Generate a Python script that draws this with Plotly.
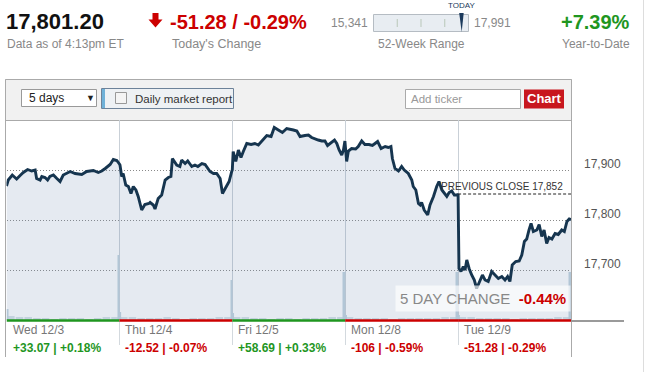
import plotly.graph_objects as go

W, H = 647, 372
FONT = "Liberation Sans, Arial, Helvetica, sans-serif"

# ---------------- data ----------------
last_price = 17801.20
today_change = "-51.28"
today_change_pct = "-0.29%"
ytd_change = "+7.39%"
week52_low = 15341
week52_high = 17991
previous_close = 17852
five_day_change = "-0.44%"
data_time = "Data as of 4:13pm ET"

day_labels = ["Wed 12/3", "Thu 12/4", "Fri 12/5", "Mon 12/8", "Tue 12/9"]
day_change_pts = ["+33.07", "-12.52", "+58.69", "-106", "-51.28"]
day_change_pcts = ["+0.18%", "-0.07%", "+0.33%", "-0.59%", "-0.29%"]

y_ticks = [17700, 17800, 17900]

# minutes after the 9:30 open and Dow level
wed_min = [0, 6, 20, 35, 47, 58, 73, 87, 99, 104, 116, 122, 133, 142, 150, 162, 174, 185, 196,
           220, 237, 260, 277, 300, 317, 329, 341, 358, 369, 381, 390]
wed_px = [17868, 17880, 17890, 17882, 17889, 17895, 17901, 17898, 17900, 17883, 17880, 17887, 17885,
          17880, 17887, 17890, 17883, 17877, 17890, 17897, 17893, 17891, 17897, 17899, 17895, 17898,
          17903, 17911, 17921, 17919, 17912]

thu_min = [2, 8, 13, 22, 31, 40, 48, 57, 65, 77, 88, 102, 106, 117, 123, 134, 146, 158, 169, 178,
           183, 198, 209, 215, 227, 236, 250, 261, 271, 285, 296, 313, 325, 336, 348, 356, 365, 379,
           388, 390]
thu_px = [17910, 17887, 17893, 17870, 17867, 17853, 17867, 17860, 17847, 17820, 17831, 17833, 17835,
          17830, 17822, 17843, 17850, 17880, 17885, 17887, 17923, 17910, 17907, 17920, 17913, 17918,
          17907, 17910, 17907, 17913, 17911, 17897, 17893, 17893, 17883, 17853, 17863, 17877, 17897,
          17900]

fri_min = [3, 12, 21, 30, 38, 50, 65, 78, 90, 107, 119, 134, 145, 159, 173, 188, 199, 211, 223, 234,
           251, 263, 274, 286, 297, 309, 320, 329, 338, 353, 361, 369, 378, 384, 389]
fri_px = [17937, 17917, 17940, 17925, 17937, 17953, 17951, 17953, 17950, 17960, 17969, 17967, 17985,
          17980, 17975, 17983, 17982, 17980, 17978, 17967, 17969, 17970, 17965, 17962, 17960, 17958,
          17958, 17949, 17953, 17960, 17953, 17940, 17930, 17940, 17958]

mon_min = [5, 11, 22, 36, 45, 57, 68, 82, 94, 103, 112, 124, 138, 149, 158, 163, 172, 184, 195, 204,
           218, 230, 235, 244, 253, 259, 264, 273, 285, 293, 305, 316, 324, 334, 343, 351, 359, 368,
           377, 387, 390]
mon_px = [17917, 17938, 17943, 17942, 17947, 17958, 17951, 17951, 17949, 17953, 17957, 17943, 17947,
          17945, 17947, 17923, 17903, 17898, 17907, 17900, 17893, 17880, 17867, 17860, 17833, 17830,
          17835, 17820, 17810, 17830, 17847, 17867, 17877, 17860, 17853, 17847, 17855, 17858, 17850,
          17850, 17852]

tue_min = [0, 3, 10, 18, 24, 30, 38, 47, 56, 64, 72, 84, 93, 104, 116, 128, 139, 151, 162, 171, 179,
           187, 199, 211, 220, 229, 237, 245, 252, 260, 272, 280, 289, 297, 306, 314, 324, 335, 346,
           358, 367, 376, 384, 390]
tue_px = [17850, 17703, 17697, 17707, 17700, 17720, 17703, 17690, 17680, 17663, 17673, 17690, 17680,
          17677, 17697, 17690, 17683, 17687, 17680, 17687, 17677, 17710, 17717, 17718, 17730, 17757,
          17762, 17780, 17793, 17777, 17780, 17791, 17767, 17780, 17753, 17765, 17762, 17773, 17771,
          17780, 17777, 17797, 17802, 17801]

# volume (arbitrary units): opening / closing prints and half-hour buckets
open_volume = [11, 8, 7, 5, 5]
close_volume = [65, 40, 48, 48, 48]
halfhour_volume = [
    [4, 3, 3, 2, 2, 1, 2, 2, 2, 1, 2, 3, 3],
    [3, 3, 2, 2, 2, 3, 2, 1, 2, 2, 2, 3, 3],
    [3, 3, 2, 2, 1, 2, 2, 1, 2, 2, 2, 3, 3],
    [3, 2, 2, 2, 2, 1, 2, 2, 2, 2, 2, 3, 3],
    [3, 3, 2, 2, 2, 2, 1, 2, 2, 2, 2, 3, 3],
]

# ---------------- helpers ----------------
def px(x):
    return x / W


def py(y):
    return 1 - y / H


def path(points):
    s = "M " + " L ".join(f"{px(x):.5f},{py(y):.5f}" for x, y in points)
    return s + " Z"


DAY = 390
GREEN = "#1f961f"
RED = "#cc0000"
GRAY = "#888888"

days = [(wed_min, wed_px), (thu_min, thu_px), (fri_min, fri_px), (mon_min, mon_px), (tue_min, tue_px)]
xs, ys = [], []
for d, (mins, prices) in enumerate(days):
    xs += [d * DAY + m for m in mins]
    ys += prices

bg_x, bg_v = [], []
for d, vols in enumerate(halfhour_volume):
    for k, v in enumerate(vols):
        bg_x.append(d * DAY + 15 + 30 * k)
        bg_v.append(v)
spike_x, spike_v = [], []
for d in range(5):
    spike_x += [d * DAY + 3, d * DAY + DAY - 3]
    spike_v += [open_volume[d], close_volume[d]]

fig = go.Figure()
fig.add_trace(go.Scatter(x=xs, y=ys, mode="lines", line=dict(width=0), fill="tozeroy",
                         fillcolor="rgba(110,140,180,0.18)", yaxis="y", hoverinfo="skip"))
fig.add_trace(go.Bar(x=bg_x, y=bg_v, width=26, marker=dict(color="#c3d2de", line=dict(width=0)),
                     yaxis="y2", hoverinfo="skip"))
fig.add_trace(go.Bar(x=spike_x, y=spike_v, width=6, marker=dict(color="#b2c6d6", line=dict(width=0)),
                     yaxis="y2", hoverinfo="skip"))
fig.add_trace(go.Scatter(x=xs, y=ys, mode="lines", line=dict(color="#16354f", width=2.9),
                         yaxis="y3", hoverinfo="skip"))

x_dom = [px(6.5), px(571)]
y_dom = [py(320), py(120)]

shapes = []
annotations = []

# toolbar / frame
shapes.append(dict(type="rect", xref="paper", yref="paper", x0=px(5.5), x1=px(571.5), y0=py(120.5),
                   y1=py(79.5), fillcolor="#f1f1f1", line=dict(color="#aaaaaa", width=1), layer="below"))
for xx in (5.5, 571.5):
    shapes.append(dict(type="line", xref="paper", yref="paper", x0=px(xx), x1=px(xx), y0=py(79.5),
                       y1=py(357), line=dict(color="#aaaaaa", width=1)))
# dropdown
shapes.append(dict(type="rect", xref="paper", yref="paper", x0=px(21.5), x1=px(96.5), y0=py(106.5),
                   y1=py(89.5), fillcolor="white", line=dict(color="#999999", width=1)))
annotations.append(dict(text="5 days", x=px(27), y=py(98), xanchor="left", yanchor="middle",
                        font=dict(size=12, color="#222222")))
annotations.append(dict(text="▼", x=px(90), y=py(98), xanchor="center", yanchor="middle",
                        font=dict(size=9, color="#222222")))
# daily market report
shapes.append(dict(type="rect", xref="paper", yref="paper", x0=px(101.5), x1=px(233.5), y0=py(108.5),
                   y1=py(88.5), fillcolor="#eef1f4", line=dict(color="#6d8299", width=1)))
shapes.append(dict(type="rect", xref="paper", yref="paper", x0=px(102), x1=px(105), y0=py(108),
                   y1=py(89), fillcolor="#6fb1d8", line=dict(width=0)))
shapes.append(dict(type="rect", xref="paper", yref="paper", x0=px(115.5), x1=px(126.5), y0=py(103.5),
                   y1=py(92.5), fillcolor="#f4f4f4", line=dict(color="#999999", width=1)))
annotations.append(dict(text="Daily market report", x=px(133), y=py(98.5), xanchor="left",
                        yanchor="middle", font=dict(size=11.5, color="#333333")))
# add ticker + chart button
shapes.append(dict(type="rect", xref="paper", yref="paper", x0=px(405.5), x1=px(520.5), y0=py(108.5),
                   y1=py(89.5), fillcolor="white", line=dict(color="#aaaaaa", width=1)))
annotations.append(dict(text="Add ticker", x=px(409), y=py(99), xanchor="left", yanchor="middle",
                        font=dict(size=11.5, color="#999999")))
shapes.append(dict(type="rect", xref="paper", yref="paper", x0=px(524), x1=px(564), y0=py(108.5),
                   y1=py(89.5), fillcolor="#c8171e", line=dict(width=0)))
annotations.append(dict(text="<b>Chart</b>", x=px(544), y=py(98.5), xanchor="center",
                        yanchor="middle", font=dict(size=13, color="white")))

# header
shapes.append(dict(type="line", xref="paper", yref="paper", x0=px(643.5), x1=px(643.5), y0=0, y1=1,
                   line=dict(color="#dddddd", width=1)))
annotations.append(dict(text=f"<b>{last_price:,.2f}</b>", x=px(4), y=py(22), xanchor="left",
                        yanchor="middle", font=dict(size=22, color="#111111")))
annotations.append(dict(text=data_time, x=px(5), y=py(44), xanchor="left", yanchor="middle",
                        font=dict(size=12, color=GRAY)))
shapes.append(dict(type="path", xref="paper", yref="paper",
                   path=path([(152.5, 13), (158.5, 13), (158.5, 19.5), (162.5, 19.5), (155.5, 27.5),
                              (148.5, 19.5), (152.5, 19.5)]),
                   fillcolor=RED, line=dict(width=0)))
annotations.append(dict(text=f"<b>{today_change} / {today_change_pct}</b>", x=px(168), y=py(22),
                        xanchor="left", yanchor="middle", font=dict(size=20, color=RED)))
annotations.append(dict(text="Today's Change", x=px(170), y=py(44), xanchor="left", yanchor="middle",
                        font=dict(size=12.5, color=GRAY)))
# 52 week range
bx0, bx1 = 373.5, 468.5
shapes.append(dict(type="rect", xref="paper", yref="paper", x0=px(bx0), x1=px(bx1), y0=py(31.5),
                   y1=py(14.5), fillcolor="#e8edf2", line=dict(color="#b5bcc3", width=1)))
for frac in (0.25, 0.5, 0.75):
    tx = bx0 + (bx1 - bx0) * frac
    shapes.append(dict(type="line", xref="paper", yref="paper", x0=px(tx), x1=px(tx), y0=py(27),
                       y1=py(19), line=dict(color="#b9c7b9", width=1)))
mk = bx0 + (bx1 - bx0) * (last_price - week52_low) / (week52_high - week52_low)
shapes.append(dict(type="path", xref="paper", yref="paper",
                   path=path([(mk - 2.5, 13), (mk + 2, 13), (mk, 32)]),
                   fillcolor="#1b3a5c", line=dict(width=0)))
annotations.append(dict(text="TODAY", x=px(mk), y=py(6), xanchor="center", yanchor="middle",
                        font=dict(size=8, color="#1b3a5c")))
annotations.append(dict(text=f"{week52_low:,}", x=px(369.5), y=py(23), xanchor="right",
                        yanchor="middle", font=dict(size=12, color=GRAY)))
annotations.append(dict(text=f"{week52_high:,}", x=px(472), y=py(23), xanchor="left",
                        yanchor="middle", font=dict(size=12, color=GRAY)))
annotations.append(dict(text="52-Week Range", x=px(421), y=py(44), xanchor="center",
                        yanchor="middle", font=dict(size=12, color=GRAY)))
annotations.append(dict(text=f"<b>{ytd_change}</b>", x=px(632), y=py(22), xanchor="right",
                        yanchor="middle", font=dict(size=20, color=GREEN)))
annotations.append(dict(text="Year-to-Date", x=px(632), y=py(44), xanchor="right", yanchor="middle",
                        font=dict(size=12, color=GRAY)))

# day colored baseline
for d in range(5):
    up = day_change_pts[d].startswith("+")
    shapes.append(dict(type="line", xref="x", yref="paper", x0=d * DAY, x1=(d + 1) * DAY,
                       y0=py(320.5), y1=py(320.5), line=dict(color=GREEN if up else RED, width=2.5)))
    col = GREEN if up else RED
    annotations.append(dict(text=day_labels[d], xref="x", x=d * DAY, xshift=4, y=py(330),
                            xanchor="left", yanchor="middle", font=dict(size=12, color="#777777")))
    annotations.append(dict(text=f"<b>{day_change_pts[d]} | {day_change_pcts[d]}</b>", xref="x",
                            x=d * DAY, xshift=4, y=py(348), xanchor="left", yanchor="middle",
                            font=dict(size=12, color=col)))
shapes.append(dict(type="line", xref="paper", yref="paper", x0=px(571), x1=px(624), y0=py(321),
                   y1=py(321), line=dict(color="#9a9a9a", width=2)))

# previous close
shapes.append(dict(type="line", xref="x", yref="y", x0=4 * DAY, x1=5 * DAY, y0=previous_close,
                   y1=previous_close, line=dict(color="#222222", width=1, dash="3px,2px")))
annotations.append(dict(text=f"PREVIOUS CLOSE {previous_close:,}", xref="x", yref="y", x=5 * DAY,
                        xshift=-6, y=previous_close, yshift=0, xanchor="right", yanchor="bottom",
                        font=dict(size=10, color="#333333")))

# 5 day change box
annotations.append(dict(text=f"5 DAY CHANGE  <b><span style='color:{RED}'>{five_day_change}</span></b>",
                        x=px(571), y=py(298), xanchor="right", yanchor="middle",
                        bgcolor="rgba(255,255,255,0.65)", borderpad=4,
                        font=dict(size=15, color="#888888")))

for a in annotations:
    a.setdefault("xref", "paper")
    a.setdefault("yref", "paper")
    a["showarrow"] = False

fig.update_layout(
    width=W, height=H, autosize=False,
    margin=dict(l=0, r=0, t=0, b=0),
    paper_bgcolor="white", plot_bgcolor="white",
    font=dict(family=FONT),
    showlegend=False, hovermode=False, barmode="overlay",
    xaxis=dict(domain=x_dom, range=[0, 5 * DAY], showgrid=True, gridcolor="#c9d0d7", gridwidth=1,
               tickvals=[DAY * k for k in range(1, 5)], ticks="outside", ticklen=24,
               tickcolor="#d3d9de", showticklabels=False, zeroline=False, showline=False,
               fixedrange=True),
    yaxis=dict(domain=y_dom, range=[17600, 18000], side="right", tickvals=y_ticks, tickformat=",d",
               showgrid=True, gridcolor="#8a8a8a", gridwidth=1, griddash="1px,2px", ticks="",
               ticklabelstandoff=12, ticklabelshift=-6, tickfont=dict(size=12, color="#555555"),
               zeroline=False, showline=False, fixedrange=True),
    yaxis2=dict(overlaying="y", anchor="x", range=[0, 200], visible=False, fixedrange=True),
    yaxis3=dict(overlaying="y", anchor="x", range=[17600, 18000], visible=False, fixedrange=True),
    shapes=shapes, annotations=annotations,
)

fig.write_html("out.html", config={"displayModeBar": False},
               post_script="document.body.style.margin='0';")
